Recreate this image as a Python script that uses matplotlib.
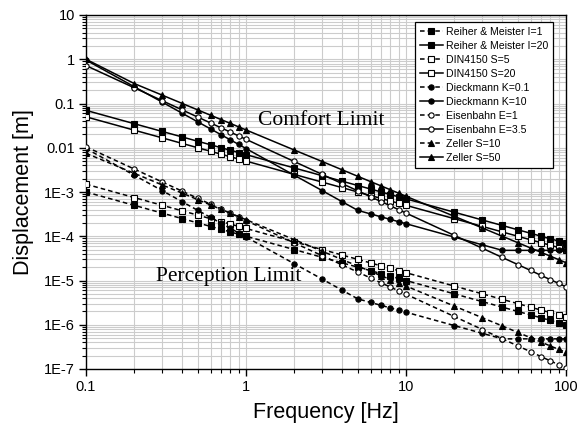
import matplotlib
matplotlib.use("Agg")
import matplotlib.pyplot as plt
from matplotlib.ticker import FixedLocator, FuncFormatter, LogLocator, NullFormatter
import numpy as np

freq = [0.1, 0.2, 0.3, 0.4, 0.5, 0.6, 0.7, 0.8, 0.9,
        1, 2, 3, 4, 5, 6, 7, 8, 9,
        10, 20, 30, 40, 50, 60, 70, 80, 90, 100]

reiher_i1 = [1.0e-3, 5.0e-4, 3.33e-4, 2.5e-4, 2.0e-4, 1.67e-4, 1.43e-4, 1.25e-4, 1.11e-4,
             1.0e-4, 5.0e-5, 3.33e-5, 2.5e-5, 2.0e-5, 1.67e-5, 1.43e-5, 1.25e-5, 1.11e-5,
             1.0e-5, 5.0e-6, 3.33e-6, 2.5e-6, 2.0e-6, 1.67e-6, 1.43e-6, 1.25e-6, 1.11e-6, 1.0e-6]
reiher_i20 = [7.0e-2, 3.5e-2, 2.33e-2, 1.75e-2, 1.4e-2, 1.17e-2, 1.0e-2, 8.75e-3, 7.78e-3,
              7.0e-3, 3.5e-3, 2.33e-3, 1.75e-3, 1.4e-3, 1.17e-3, 1.0e-3, 8.75e-4, 7.78e-4,
              7.0e-4, 3.5e-4, 2.33e-4, 1.75e-4, 1.4e-4, 1.17e-4, 1.0e-4, 8.75e-5, 7.78e-5, 7.0e-5]
din_s5 = [1.5e-3, 7.5e-4, 5.0e-4, 3.75e-4, 3.0e-4, 2.5e-4, 2.14e-4, 1.88e-4, 1.67e-4,
          1.5e-4, 7.5e-5, 5.0e-5, 3.75e-5, 3.0e-5, 2.5e-5, 2.14e-5, 1.88e-5, 1.67e-5,
          1.5e-5, 7.5e-6, 5.0e-6, 3.75e-6, 3.0e-6, 2.5e-6, 2.14e-6, 1.88e-6, 1.67e-6, 1.5e-6]
din_s20 = [5.0e-2, 2.5e-2, 1.67e-2, 1.25e-2, 1.0e-2, 8.33e-3, 7.14e-3, 6.25e-3, 5.56e-3,
           5.0e-3, 2.5e-3, 1.67e-3, 1.25e-3, 1.0e-3, 8.33e-4, 7.14e-4, 6.25e-4, 5.56e-4,
           5.0e-4, 2.5e-4, 1.67e-4, 1.25e-4, 1.0e-4, 8.33e-5, 7.14e-5, 6.25e-5, 5.56e-5, 5.0e-5]
dieck_k01 = [9.6e-3, 2.4e-3, 1.07e-3, 6.0e-4, 3.84e-4, 2.67e-4, 1.96e-4, 1.5e-4, 1.19e-4,
             9.6e-5, 2.4e-5, 1.07e-5, 6.0e-6, 3.84e-6, 3.2e-6, 2.74e-6, 2.4e-6, 2.13e-6,
             1.92e-6, 9.6e-7, 6.4e-7, 4.8e-7, 4.8e-7, 4.8e-7, 4.8e-7, 4.8e-7, 4.8e-7, 4.8e-7]
dieck_k10 = [9.6e-1, 2.4e-1, 1.07e-1, 6.0e-2, 3.84e-2, 2.67e-2, 1.96e-2, 1.5e-2, 1.19e-2,
             9.6e-3, 2.4e-3, 1.07e-3, 6.0e-4, 3.84e-4, 3.2e-4, 2.74e-4, 2.4e-4, 2.13e-4,
             1.92e-4, 9.6e-5, 6.4e-5, 4.8e-5, 4.8e-5, 4.8e-5, 4.8e-5, 4.8e-5, 4.8e-5, 4.8e-5]
eisen_e1 = [1.05e-2, 3.31e-3, 1.68e-3, 1.04e-3, 7.2e-4, 5.3e-4, 4.1e-4, 3.28e-4, 2.7e-4,
            2.26e-4, 7.1e-5, 3.62e-5, 2.24e-5, 1.55e-5, 1.14e-5, 8.8e-6, 7.1e-6, 5.8e-6,
            4.9e-6, 1.54e-6, 7.8e-7, 4.8e-7, 3.33e-7, 2.46e-7, 1.9e-7, 1.52e-7, 1.25e-7, 1.05e-7]
eisen_e35 = [7.2e-1, 2.27e-1, 1.154e-1, 7.14e-2, 4.92e-2, 3.64e-2, 2.81e-2, 2.25e-2, 1.85e-2,
             1.55e-2, 4.89e-3, 2.49e-3, 1.54e-3, 1.06e-3, 7.8e-4, 6.06e-4, 4.85e-4, 3.98e-4,
             3.34e-4, 1.05e-4, 5.36e-5, 3.31e-5, 2.29e-5, 1.69e-5, 1.3e-5, 1.04e-5, 8.6e-6, 7.2e-6]
zeller_s10 = [7.5e-3, 2.65e-3, 1.44e-3, 9.4e-4, 6.7e-4, 5.1e-4, 4.05e-4, 3.3e-4, 2.78e-4,
              2.37e-4, 8.4e-5, 4.57e-5, 2.96e-5, 2.12e-5, 1.61e-5, 1.28e-5, 1.05e-5, 8.8e-6,
              7.5e-6, 2.65e-6, 1.44e-6, 9.4e-7, 6.7e-7, 5.1e-7, 4.05e-7, 3.3e-7, 2.78e-7, 2.37e-7]
zeller_s50 = [1.0, 2.83e-1, 1.54e-1, 1.0e-1, 7.15e-2, 5.44e-2, 4.32e-2, 3.54e-2, 2.96e-2,
              2.53e-2, 8.9e-3, 4.87e-3, 3.16e-3, 2.26e-3, 1.72e-3, 1.37e-3, 1.12e-3, 9.4e-4,
              8.0e-4, 2.83e-4, 1.54e-4, 1.0e-4, 7.15e-5, 5.44e-5, 4.32e-5, 3.54e-5, 2.96e-5, 2.53e-5]

labels = ["Reiher & Meister I=1", "Reiher & Meister I=20",
          "DIN4150 S=5", "DIN4150 S=20",
          "Dieckmann K=0.1", "Dieckmann K=10",
          "Eisenbahn E=1", "Eisenbahn E=3.5",
          "Zeller S=10", "Zeller S=50"]
series = [reiher_i1, reiher_i20, din_s5, din_s20, dieck_k01, dieck_k10,
          eisen_e1, eisen_e35, zeller_s10, zeller_s50]
markers = ["s", "s", "s", "s", "o", "o", "o", "o", "^", "^"]
filled = [True, True, False, False, True, True, False, False, True, True]
dashed = [True, False, True, False, True, False, True, False, True, False]

ytick_vals = [1e-7, 1e-6, 1e-5, 1e-4, 1e-3, 1e-2, 1e-1, 1, 10]
ytick_text = ["1E-7", "1E-6", "1E-5", "1E-4", "1E-3", "0.01", "0.1", "1", "10"]
xtick_vals = [0.1, 1, 10, 100]
xtick_text = ["0.1", "1", "10", "100"]

sans = ["Liberation Sans", "DejaVu Sans"]
serif = ["Liberation Serif", "DejaVu Serif"]
plt.rcParams["font.family"] = sans

fig = plt.figure(figsize=(5.88, 4.26), dpi=100)
ax = fig.add_axes([86 / 588, 1 - 369 / 426, 480 / 588, 354 / 426])

for vals, lab, mk, fl, ds in zip(series, labels, markers, filled, dashed):
    ms = 4.4 if mk == "^" else 3.8
    line, = ax.plot(freq, vals, color="black", lw=1.1, marker=mk, markersize=ms,
                    markerfacecolor="black" if fl else "white",
                    markeredgecolor="black", markeredgewidth=0.8, label=lab, zorder=3)
    if ds:
        line.set_dashes((3, 2))

ax.set_xscale("log")
ax.set_yscale("log")
ax.set_xlim(0.1, 100)
ax.set_ylim(1e-7, 10)

ax.xaxis.set_major_locator(FixedLocator(xtick_vals))
ax.xaxis.set_major_formatter(FuncFormatter(lambda v, p: dict(zip(xtick_vals, xtick_text)).get(v, "")))
ax.xaxis.set_minor_locator(LogLocator(base=10, subs=np.arange(2, 10)))
ax.xaxis.set_minor_formatter(NullFormatter())
ax.yaxis.set_major_locator(FixedLocator(ytick_vals))
ax.yaxis.set_major_formatter(FuncFormatter(lambda v, p: dict(zip(ytick_vals, ytick_text)).get(v, "")))
ax.yaxis.set_minor_locator(LogLocator(base=10, subs=np.arange(2, 10), numticks=20))
ax.yaxis.set_minor_formatter(NullFormatter())

ax.grid(True, which="both", color="#cccccc", lw=0.8, zorder=0)
ax.set_axisbelow(True)
ax.tick_params(which="major", direction="out", length=5, width=1.0, labelsize=10.5, pad=3)
ax.tick_params(which="minor", direction="out", length=3, width=0.8)
for sp in ax.spines.values():
    sp.set_linewidth(1.0)
    sp.set_color("black")

ax.set_xlabel("Frequency [Hz]", fontsize=15.5, labelpad=6)
ax.set_ylabel("Displacement [m]", fontsize=15.5, labelpad=7)

ax.text(2.94, 0.041, "Comfort Limit", family=serif, fontsize=15.5, ha="center", va="center")
ax.text(0.78, 1.23e-5, "Perception Limit", family=serif, fontsize=15.5, ha="center", va="center")

leg = ax.legend(loc="upper right", bbox_to_anchor=((553 - 86) / 480, (369 - 22) / 354),
                borderaxespad=0, fontsize=7.6, frameon=True, fancybox=False,
                edgecolor="black", framealpha=1, handlelength=2.2, handletextpad=0.3,
                borderpad=0.45, labelspacing=0.38)
leg.get_frame().set_linewidth(0.9)

fig.savefig("out.png", dpi=100)
